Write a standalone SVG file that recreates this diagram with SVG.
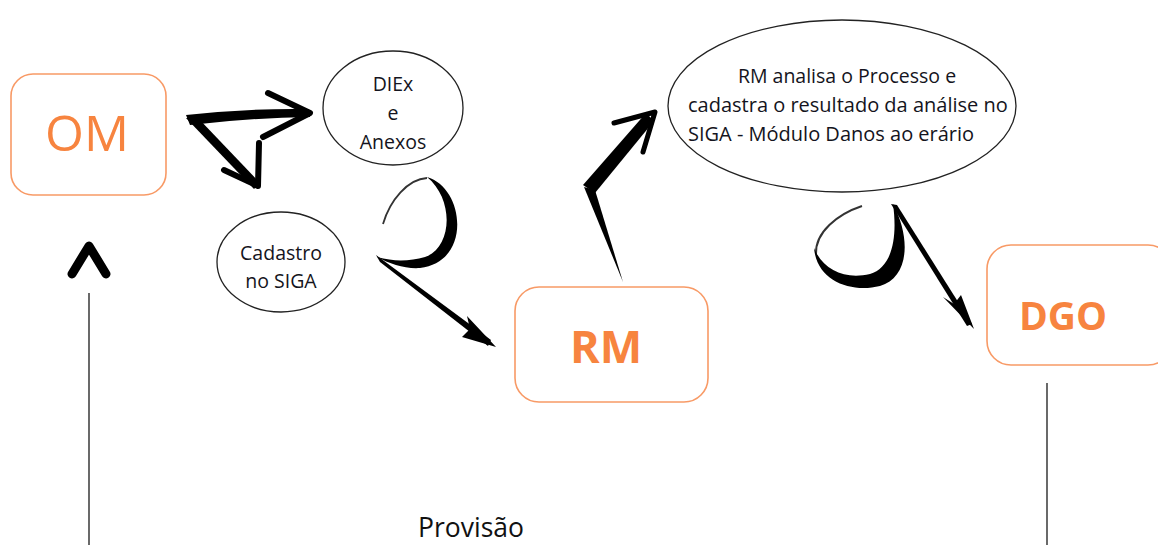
<svg xmlns="http://www.w3.org/2000/svg" width="1158" height="545" viewBox="0 0 1158 545">
<style>
.box{fill:#fff;stroke:#F89A66;stroke-width:1.6}
.ell{fill:#fff;stroke:#222;stroke-width:1.3}
.t{font-family:"Open Sans","Liberation Sans",sans-serif;font-size:19.5px;fill:#141420;text-anchor:middle}
.big{font-family:"Open Sans","Liberation Sans",sans-serif;fill:#F7843F;text-anchor:middle}
.ink{fill:#000}
.brush{fill:none;stroke:#000;stroke-linecap:round;stroke-linejoin:round}
.line{stroke:#444;stroke-width:1.6}
</style>
<rect width="1158" height="545" fill="#fff"/>
<g id="OM">
<rect class="box" x="11" y="74" width="155" height="121" rx="22"/>
<text class="big" x="87" y="151" font-size="50">OM</text>
</g>
<g id="DIEx">
<ellipse class="ell" cx="393" cy="108" rx="70" ry="57"/>
<text class="t" x="393" y="91">DIEx</text>
<text class="t" x="393" y="120">e</text>
<text class="t" x="393" y="149">Anexos</text>
</g>
<g id="Cadastro">
<ellipse class="ell" cx="281" cy="262" rx="64" ry="50"/>
<text class="t" x="281" y="260">Cadastro</text>
<text class="t" x="281" y="288">no SIGA</text>
</g>
<g id="RM">
<rect class="box" x="515" y="287" width="193" height="115" rx="24"/>
<text class="big" x="606" y="363" font-size="45" font-weight="bold">RM</text>
</g>
<g id="Analise">
<ellipse class="ell" cx="842" cy="106" rx="174" ry="86"/>
<text class="t" x="847" y="83" font-size="20">RM analisa o Processo e</text>
<text class="t" x="688" y="112" style="text-anchor:start;font-size:20px">cadastra o resultado da análise no</text>
<text class="t" x="688" y="141" style="text-anchor:start;font-size:20px">SIGA - Módulo Danos ao erário</text>
</g>
<g id="DGO">
<rect class="box" x="987" y="245" width="185" height="120" rx="24"/>
<text class="big" x="1063" y="330" font-size="39" font-weight="bold">DGO</text>
</g>
<g id="Provisao">
<text x="418" y="537" font-family="'Open Sans','Liberation Sans',sans-serif" font-size="26.5" fill="#111">Provisão</text>
</g>
<g id="connectors">
<path class="ink" d="M186,115 Q250,108 309,109 L310,117 Q250,118 190,125 Z"/>
<path class="brush" stroke-width="6" d="M268,93 L310,113 L263,137"/>
<path class="ink" d="M186,118 L198,118 L260,183 L254,189 Z"/>
<path class="brush" stroke-width="6" d="M259,143 L258,186 L224,170"/>
<path fill="none" stroke="#000" stroke-width="1.8" opacity="0.8" d="M383,224 C390,200 408,179 427,178"/>
<path class="ink" d="M427,177 C465,188 472,262 420,268 C405,269 390,264 377,257 C395,262 410,261 425,257 C452,248 455,200 427,177 Z"/>
<path class="ink" d="M376,255 L491,340 L488,346 L380,262 Z"/>
<path class="ink" d="M496,347 L462,337 L470,329 L467,316 Z"/>
<path class="ink" d="M583,185 L646,113 L654,121 L595,193 Z"/>
<path class="brush" stroke-width="5" d="M614,123 L655,112 L643,152"/>
<path class="ink" d="M584,187 L595,190 L623,282 Z"/>
<path fill="none" stroke="#000" stroke-width="2" opacity="0.8" d="M862,206 C838,214 815,232 816,254"/>
<path class="ink" d="M814,248 C817,282 852,293 880,286 C908,278 912,240 893,204 C898,240 891,268 870,274 C845,280 823,270 814,248 Z"/>
<path class="ink" d="M891,204 L897,205 L972,324 L967,326 Z"/>
<path class="ink" d="M974,329 L943,297 L954,304 L961,295 Z"/>
<path class="brush" stroke-width="9" d="M72,274 L89,246 L106,274"/>
<line class="line" x1="89" y1="293" x2="89" y2="545"/>
<line class="line" x1="1047" y1="383" x2="1047" y2="545"/>
</g>
</svg>
